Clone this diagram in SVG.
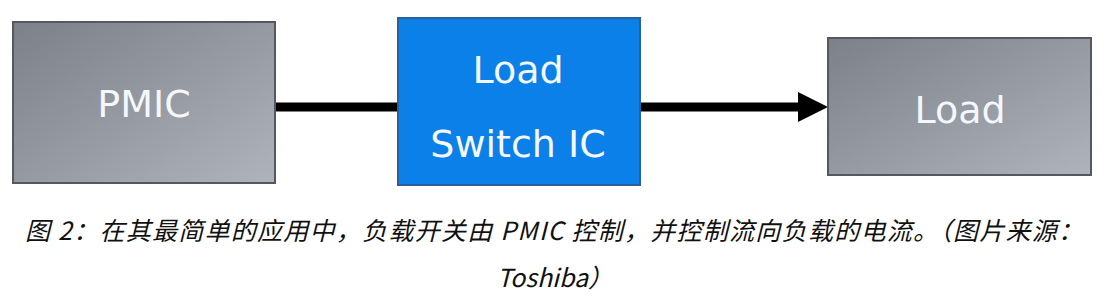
<svg xmlns="http://www.w3.org/2000/svg" width="1111" height="307" viewBox="0 0 1111 307">
  <defs>
    <linearGradient id="gray" x1="0" y1="0" x2="1" y2="1">
      <stop offset="0" stop-color="#7c8088"/>
      <stop offset="1" stop-color="#aeb3bc"/>
    </linearGradient>
    <marker id="arrow" markerUnits="userSpaceOnUse" markerWidth="32" markerHeight="32" refX="3" refY="15" orient="auto">
      <path d="M1,0 L31,15 L1,30 Z" fill="#000"/>
    </marker>
    <style>
      .gbox { fill: url(#gray); stroke: #55585e; stroke-width: 2; }
      .bbox { fill: #0b80e8; stroke: #2a609c; stroke-width: 2; }
      .lbl { font-family: "DejaVu Sans", Verdana, sans-serif; font-size: 38px; fill: #f4f8fc; text-anchor: middle; }
      .conn { stroke: #000; stroke-width: 9; fill: none; }
      .cap { font-family: "Noto Sans CJK SC", sans-serif; font-size: 25px; font-style: italic; fill: #111; }
    </style>
  </defs>
  <rect width="1111" height="307" fill="#fff"/>
  <g id="connectors">
    <line class="conn" x1="275" y1="107" x2="399" y2="107"/>
    <line class="conn" x1="640" y1="107" x2="800" y2="107" marker-end="url(#arrow)"/>
  </g>
  <g id="pmic">
    <rect class="gbox" x="13" y="22" width="262" height="161"/>
    <text class="lbl" x="144" y="117">PMIC</text>
  </g>
  <g id="loadswitch">
    <rect class="bbox" x="398" y="18" width="242" height="167"/>
    <text class="lbl" x="518" y="83">Load</text>
    <text class="lbl" x="518" y="157">Switch IC</text>
  </g>
  <g id="load">
    <rect class="gbox" x="828" y="38" width="263" height="137"/>
    <text class="lbl" x="960" y="123">Load</text>
  </g>
  <g id="caption">
    <text class="cap" x="25" y="240" textLength="1058" lengthAdjust="spacing">图 2：在其最简单的应用中，负载开关由 PMIC 控制，并控制流向负载的电流。（图片来源：</text>
    <text class="cap" x="555" y="287" text-anchor="middle">Toshiba）</text>
  </g>
</svg>
